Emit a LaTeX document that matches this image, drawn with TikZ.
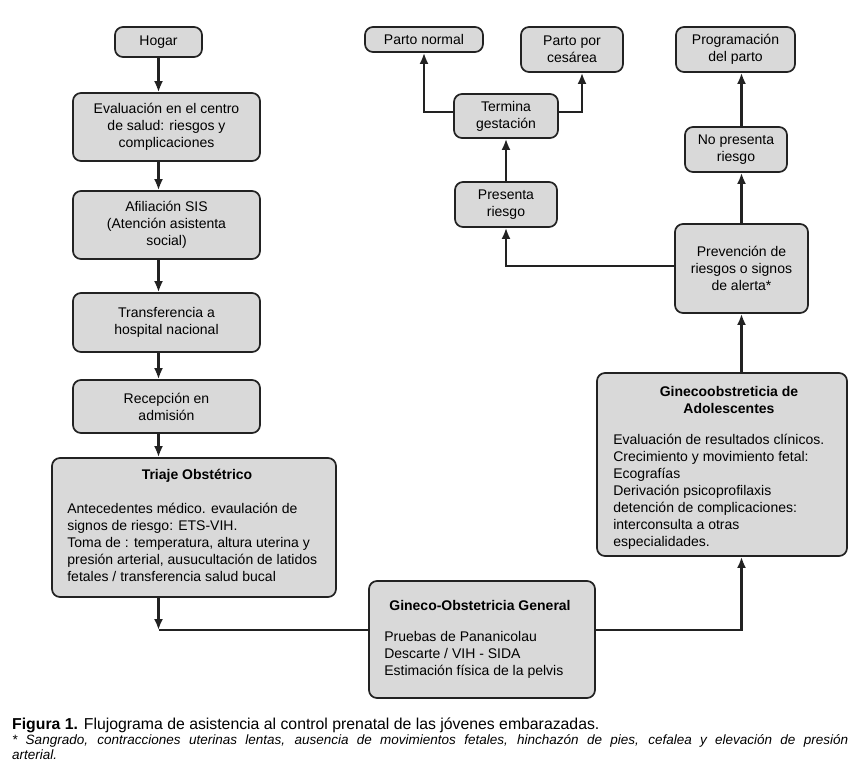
\documentclass[tikz,border=0pt]{standalone}
\usepackage{fontspec}
\setmainfont{Liberation Sans}
\usetikzlibrary{arrows.meta,positioning,calc}
\definecolor{boxgray}{HTML}{D9D9D9}
\definecolor{edgegray}{HTML}{222222}

\begin{document}
\begin{tikzpicture}[x=1pt,y=-1pt,
  flow/.style={draw=edgegray,fill=boxgray,line width=1.7pt,rounded corners=8pt,
    align=center,inner sep=0pt,font=\fontsize{14}{17}\selectfont},
  link/.style={draw=edgegray,line width=2.2pt},
  arr/.style={link,-{Latex[length=11pt,width=9pt]}},
  txt/.style={inner sep=0pt,font=\fontsize{14}{17}\selectfont},
  head/.style={txt,font=\fontsize{14}{17}\selectfont\bfseries}]
\useasboundingbox[fill=white] (0,0) rectangle (863,769);

% left column
\node[flow,minimum width=87pt,minimum height=30pt] (hogar) at (158.5,42) {Hogar};
\node[flow,minimum width=187pt,minimum height=68pt] (eval) at (166.5,127)
  {Evaluación en el centro\\de salud: riesgos y\\complicaciones};
\node[flow,minimum width=187pt,minimum height=68pt] (afil) at (166.5,225)
  {Afiliación SIS\\(Atención asistenta\\social)};
\node[flow,minimum width=187pt,minimum height=59pt] (transf) at (166.5,322.5)
  {Transferencia a\\hospital nacional};
\node[flow,minimum width=187pt,minimum height=53pt] (recep) at (166.5,406.5)
  {Recepción en\\admisión};
\node[flow,minimum width=284pt,minimum height=139pt] (triaje) at (194,527.5) {};
\node[head] (triajetitle) at ([xshift=3pt,yshift=-19pt]triaje.north)
  {Triaje Obstétrico};
\node[txt,align=left,anchor=west] (triajebody) at ([xshift=16pt,yshift=-14.5pt]triaje.west)
  {Antecedentes médico. evaulación de\\signos de riesgo: ETS-VIH.\\
   Toma de : temperatura, altura uterina y\\presión arterial, ausucultación de latidos\\
   fetales / transferencia salud bucal};

\foreach \a/\b in {hogar/eval,eval/afil,afil/transf,transf/recep,recep/triaje}
  \draw[arr] (hogar.south |- \a.south) -- (hogar.south |- \b.north);

% bottom
\node[flow,minimum width=226pt,minimum height=117pt] (gengral) at (482,639.5) {};
\node[head] (gengraltitle) at ([xshift=-2pt,yshift=-25pt]gengral.north)
  {Gineco-Obstetricia General};
\node[txt,align=left,anchor=west] (gengralbody) at ([xshift=16pt,yshift=-15.5pt]gengral.west)
  {Pruebas de Pananicolau\\Descarte / VIH - SIDA\\Estimación física de la pelvis};
\coordinate (gjoin) at ([yshift=9.5pt]gengral.west);
\coordinate (gout) at ([yshift=9.5pt]gengral.east);
\coordinate (tcorner) at (hogar.south |- gjoin);
\draw[arr] (hogar.south |- triaje.south) -- (tcorner);
\draw[link] (tcorner) -- (gjoin);

% right column
\node[flow,minimum width=250pt,minimum height=183pt] (adol) at (722,464.5) {};
\node[head,align=center] (adoltitle) at ([xshift=7pt,yshift=-27.5pt]adol.north)
  {Ginecoobstreticia de\\Adolescentes};
\node[txt,align=left,anchor=west] (adolbody) at ([xshift=17pt,yshift=-27.5pt]adol.west)
  {Evaluación de resultados clínicos.\\Crecimiento y movimiento fetal:\\Ecografías\\
   Derivación psicoprofilaxis\\detención de complicaciones:\\interconsulta a otras\\especialidades.};
\node[flow,minimum width=133pt,minimum height=89pt] (prev) at (741.5,268.5)
  {Prevención de\\riesgos o signos\\de alerta*};
\node[flow,minimum width=102pt,minimum height=45pt] (nopres) at (736,149.5)
  {No presenta\\riesgo};
\node[flow,minimum width=119pt,minimum height=45pt] (prog) at (735.5,49.5)
  {Programación\\del parto};

\draw[arr] (gout) -| (prev.south |- adol.south);
\draw[arr] (prev.south |- adol.north) -- (prev.south);
\draw[arr] (prev.north) -- (prev.north |- nopres.south);
\draw[arr] (prev.north |- nopres.north) -- (prev.north |- prog.south);

% middle column
\node[flow,minimum width=102pt,minimum height=45pt] (presen) at (506,204.5)
  {Presenta\\riesgo};
\node[flow,minimum width=104pt,minimum height=44pt] (termina) at (506,116)
  {Termina\\gestación};
\node[flow,minimum width=118pt,minimum height=25pt] (pnormal) at (424,39.5)
  {Parto normal};
\node[flow,minimum width=102pt,minimum height=45pt] (cesarea) at (572,49.5)
  {Parto por\\cesárea};

\draw[arr] ([yshift=2.5pt]prev.west) -| (presen.south);
\draw[arr] (presen.north) -- (termina.south);
\draw[arr] ([yshift=4pt]termina.west) -| (pnormal.south);
\draw[arr] ([yshift=4pt]termina.east) -| ([xshift=10pt]cesarea.south);

% caption
\node[inner sep=0pt,anchor=west,font=\fontsize{15.8}{17}\selectfont] (caption) at (12,725)
  {\textbf{Figura 1.} Flujograma de asistencia al control prenatal de las jóvenes embarazadas.};
\node[inner sep=0pt,anchor=north west,text width=836pt,align=justify,
  font=\itshape\fontsize{13.5}{15}\selectfont] (footnote) at (12,734)
  {* Sangrado, contracciones uterinas lentas, ausencia de movimientos fetales, hinchazón de pies, cefalea y elevación de presión\linebreak arterial.};
\end{tikzpicture}
\end{document}
